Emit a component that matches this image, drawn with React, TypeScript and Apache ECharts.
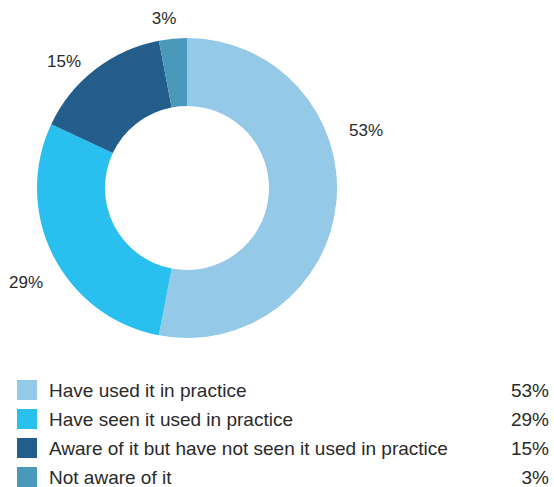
import React, { useEffect, useRef } from "react";
import * as echarts from "echarts";

const categories = [
  "Have used it in practice",
  "Have seen it used in practice",
  "Aware of it but have not seen it used in practice",
  "Not aware of it",
];
const values = [53, 29, 15, 3];
const colors = ["#94C9E8", "#29BFEF", "#235D8C", "#4A99BA"];
const labelPositions = [
  [366, 130],
  [26, 282],
  [64, 61],
  [164, 18],
];

export default function App() {
  const ref = useRef<HTMLDivElement>(null);
  useEffect(() => {
    if (!ref.current) return;
    const chart = echarts.init(ref.current, null, { renderer: "svg" });
    const font = "'Liberation Sans', Arial, Helvetica, sans-serif";
    chart.setOption({
      animation: false,
      textStyle: { fontFamily: font },
      legend: {
        orient: "vertical",
        left: 17,
        top: 380,
        padding: 0,
        height: 110,
        itemWidth: 20,
        itemHeight: 20,
        itemGap: 9,
        icon: "rect",
        data: categories,
        formatter: (name: string) => {
          const i = categories.indexOf(name);
          return `{n|${name}}{v|${values[i]}%}`;
        },
        textStyle: {
          fontFamily: font,
          rich: {
            n: { width: 443, fontSize: 19, lineHeight: 20, color: "#2a2a2a", fontFamily: font, padding: [0, 0, 0, 7] },
            v: { width: 57, align: "right", fontSize: 19, lineHeight: 20, color: "#2a2a2a", fontFamily: font },
          },
        },
      },
      series: [
        {
          type: "pie",
          center: [187, 188],
          radius: [82, 150],
          startAngle: 90,
          clockwise: true,
          avoidLabelOverlap: false,
          data: categories.map((c, i) => ({
            name: c,
            value: values[i],
            itemStyle: { color: colors[i] },
          })),
          label: {
            show: true,
            position: "outside",
            formatter: "{c}%",
            fontSize: 17,
            color: "#2a2a2a",
            fontFamily: font,
          },
          labelLine: { show: false },
          labelLayout: (params: any) => {
            const p = labelPositions[params.dataIndex];
            return { x: p[0], y: p[1], align: "center", verticalAlign: "middle" };
          },
          emphasis: { disabled: true },
        },
      ],
    });
    return () => chart.dispose();
  }, []);
  return (
    <div
      ref={ref}
      style={{ position: "absolute", left: 0, top: 0, width: 554, height: 487 }}
    />
  );
}
